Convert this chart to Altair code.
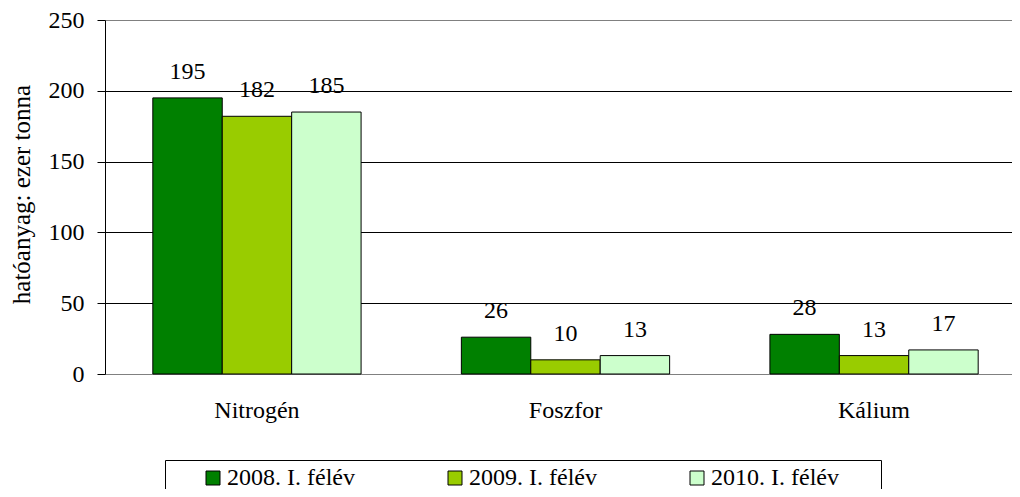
import altair as alt
import pandas as pd

categories = ["Nitrogén", "Foszfor", "Kálium"]
series = ["2008. I. félév", "2009. I. félév", "2010. I. félév"]
v2008 = [195, 26, 28]
v2009 = [182, 10, 13]
v2010 = [185, 13, 17]
colors = ["#008000", "#99CC00", "#CCFFCC"]
y_ticks = [0, 50, 100, 150, 200, 250]

rows = []
for s, vals in zip(series, [v2008, v2009, v2010]):
    for c, v in zip(categories, vals):
        rows.append({"cat": c, "series": s, "value": v})
df = pd.DataFrame(rows)

FONT = "Liberation Serif, Times New Roman, serif"
PAD = "\u00a0" * 6 + "\u200b"

x = alt.X(
    "cat:N",
    sort=categories,
    scale=alt.Scale(range=[0, 921], paddingInner=0.325, paddingOuter=0.155),
    axis=alt.Axis(
        title=None, labelAngle=0, domain=False, ticks=False, tickSize=0,
        labelFont=FONT, labelFontSize=24, labelColor="#000", labelPadding=24,
    ),
)
xo = alt.XOffset("series:N", sort=series, scale=alt.Scale(paddingInner=0, paddingOuter=0))
y = alt.Y(
    "value:Q",
    scale=alt.Scale(domain=[0, 250], nice=False),
    axis=alt.Axis(
        values=y_ticks, grid=True,
        gridColor={"condition": {"test": "datum.value == 0 || datum.value == 250", "value": "#808080"}, "value": "#000000"},
        gridWidth=1,
        domainColor="#000", tickColor="#000", tickSize=8,
        labelFont=FONT, labelFontSize=24, labelColor="#000", labelPadding=13,
        title="hatóanyag: ezer tonna", titleFont=FONT, titleFontSize=25,
        titleFontWeight="normal", titleColor="#000", titleAngle=270,
        titleX=-84, titleY=174, titleAlign="center", titleBaseline="middle",
    ),
)

color = alt.Color(
    "series:N",
    sort=series,
    scale=alt.Scale(domain=series, range=colors),
    legend=alt.Legend(
        orient="none", legendX=60, legendY=440, direction="horizontal",
        title=" ", titleOrient="left", titleFontSize=10, titlePadding=30,
        symbolType="square", symbolSize=196, symbolStrokeColor="#000",
        symbolStrokeWidth=1, symbolOpacity=1,
        labelFont=FONT, labelFontSize=24, labelColor="#000", labelOffset=2,
        labelLimit=400,
        labelExpr="datum.label == '2010. I. félév' ? datum.label + '" + PAD + "' : datum.label",
        columnPadding=88, padding=6,
        strokeColor="#000", fillColor="#fff",
    ),
)

base = alt.Chart(df).encode(x=x, xOffset=xo, y=y)

bars = base.mark_bar(stroke="#000", strokeWidth=1, opacity=1).encode(color=color)
labels = base.mark_text(
    font=FONT, fontSize=24, color="#000", baseline="alphabetic", dy=-19
).encode(text="value:Q")

chart = (
    alt.layer(bars, labels)
    .properties(
        width=907, height=354,
        autosize=alt.AutoSizeParams(type="none"),
        padding={"left": 97, "top": 12, "right": 0, "bottom": 115},
    )
    .configure_view(strokeWidth=0)
)

chart.save("out.html", embed_options={"renderer": "svg", "actions": False})
